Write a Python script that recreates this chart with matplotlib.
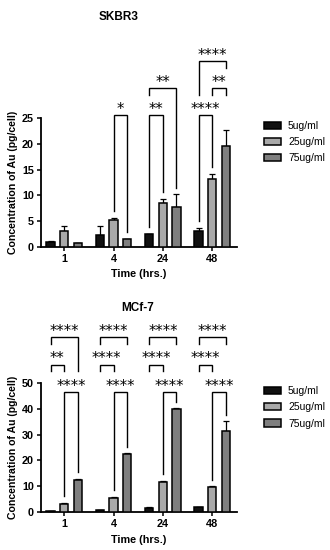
import numpy as np
import matplotlib
matplotlib.use('Agg')
import matplotlib.pyplot as plt

plt.rcParams['font.family'] = ['Liberation Sans', 'DejaVu Sans']

tijden = ['1', '4', '24', '48']
doses = ['5ug/ml', '25ug/ml', '75ug/ml']
kleuren = ['#111111', '#a9a9a9', '#7f7f7f']

# gemiddelde en SD per dosis (rij) per tijdstip (kolom)
skbr3_gem = [[1.0, 2.3, 2.5, 3.1],
             [3.0, 5.3, 8.6, 13.2],
             [0.7, 1.5, 7.8, 19.5]]
skbr3_sd = [[0.2, 1.7, 0.1, 0.6],
            [1.0, 0.3, 0.7, 1.0],
            [0.15, 0.1, 2.4, 3.2]]

mcf7_gem = [[0.3, 0.8, 1.7, 1.9],
            [3.3, 5.6, 11.8, 9.8],
            [12.3, 22.6, 40.0, 31.6]]
mcf7_sd = [[0.05, 0.1, 0.2, 0.2],
           [0.3, 0.4, 0.3, 0.2],
           [0.7, 0.2, 0.2, 3.6]]

# significantie: (groep, balk_a, balk_b, hoogte, sterren, stop_links, stop_rechts)
# stop None = poot loopt door tot net boven de balk
skbr3_sig = [
    (1, 1, 2, 25.5, '*', None, None),
    (2, 0, 1, 25.5, '**', None, None),
    (2, 0, 2, 30.8, '**', 30.8, None),
    (3, 0, 1, 25.5, '****', None, None),
    (3, 1, 2, 30.8, '**', 30.8, 30.8),
    (3, 0, 2, 36.0, '****', 30.8, 36.0),
]

mcf7_sig = [
    (0, 0, 2, 67.7, '****', 67.7, 57.1),
    (0, 0, 1, 57.1, '**', 57.1, 57.1),
    (0, 1, 2, 46.4, '****', None, None),
    (1, 0, 2, 67.7, '****', 67.7, 67.7),
    (1, 0, 1, 57.1, '****', 57.1, 57.1),
    (1, 1, 2, 46.4, '****', None, None),
    (2, 0, 2, 67.7, '****', 67.7, 67.7),
    (2, 0, 1, 57.1, '****', 57.1, 57.1),
    (2, 1, 2, 46.4, '****', None, None),
    (3, 0, 2, 67.7, '****', 67.7, 67.7),
    (3, 0, 1, 57.1, '****', 57.1, 57.1),
    (3, 1, 2, 46.4, '****', None, None),
]

offsets = [-0.275, 0.0, 0.275]
breedte = 0.17


def teken(ax, gem, sd, sig, ymax, stap):
    x = np.arange(len(tijden))
    for i in range(len(doses)):
        ax.bar(x + offsets[i], gem[i], breedte, color=kleuren[i], edgecolor='black',
               linewidth=1.1, label=doses[i], zorder=3)
        ax.errorbar(x + offsets[i], gem[i], yerr=[np.zeros(len(tijden)), sd[i]], fmt='none',
                    ecolor='black', elinewidth=0.9, capsize=2, capthick=0.9, zorder=2)

    # haken met sterren
    tick = 0.052 * ymax
    top = np.array(gem) + np.array(sd)
    for g, a, b, h, ster, sl, sr in sig:
        xa, xb = g + offsets[a], g + offsets[b]
        ya = top[a][g] + tick if sl is None else sl - tick
        yb = top[b][g] + tick if sr is None else sr - tick
        ax.plot([xa, xa, xb, xb], [ya, h, h, yb], color='black', lw=1.0,
                clip_on=False, solid_joinstyle='miter')
        ax.annotate(ster, ((xa + xb) / 2, h), xytext=(0, 1.0), textcoords='offset points',
                    ha='center', va='baseline', fontsize=10.5, family='DejaVu Sans',
                    annotation_clip=False)

    ax.set_xlim(-0.47, 3.5)
    ax.set_ylim(0, ymax)
    ax.set_yticks(np.arange(0, ymax + 1, stap))
    ax.set_xticks(x)
    ax.set_xticklabels(tijden)
    for s in ['top', 'right']:
        ax.spines[s].set_visible(False)
    for s in ['left', 'bottom']:
        ax.spines[s].set_linewidth(1.3)
    ax.tick_params(width=1.1, length=3, labelsize=7.8, pad=2)
    for lab in ax.get_xticklabels() + ax.get_yticklabels():
        lab.set_fontweight('bold')
    ax.set_xlabel('Time (hrs.)', fontsize=7.8, fontweight='bold', labelpad=4)
    ax.set_ylabel('Concentration of Au (pg/cell)', fontsize=7.6, fontweight='bold', labelpad=3)
    ax.legend(loc='upper left', bbox_to_anchor=(1.138, 0.977), frameon=False, fontsize=7.5,
              borderpad=0, borderaxespad=0, handlelength=1.6, handleheight=0.7,
              handletextpad=0.7, labelspacing=0.6)


fig = plt.figure(figsize=(3.3, 5.5), dpi=100)
ax1 = fig.add_axes([0.124, 0.551, 0.594, 0.2345])
ax2 = fig.add_axes([0.124, 0.069, 0.594, 0.2345])

teken(ax1, skbr3_gem, skbr3_sd, skbr3_sig, 25, 5)
teken(ax2, mcf7_gem, mcf7_sd, mcf7_sig, 50, 10)

fig.text(0.36, 0.969, 'SKBR3', ha='center', va='center', fontsize=8.5, fontweight='bold')
fig.text(0.417, 0.4405, 'MCf-7', ha='center', va='center', fontsize=8.5, fontweight='bold')

fig.savefig('out.png', dpi=100)
